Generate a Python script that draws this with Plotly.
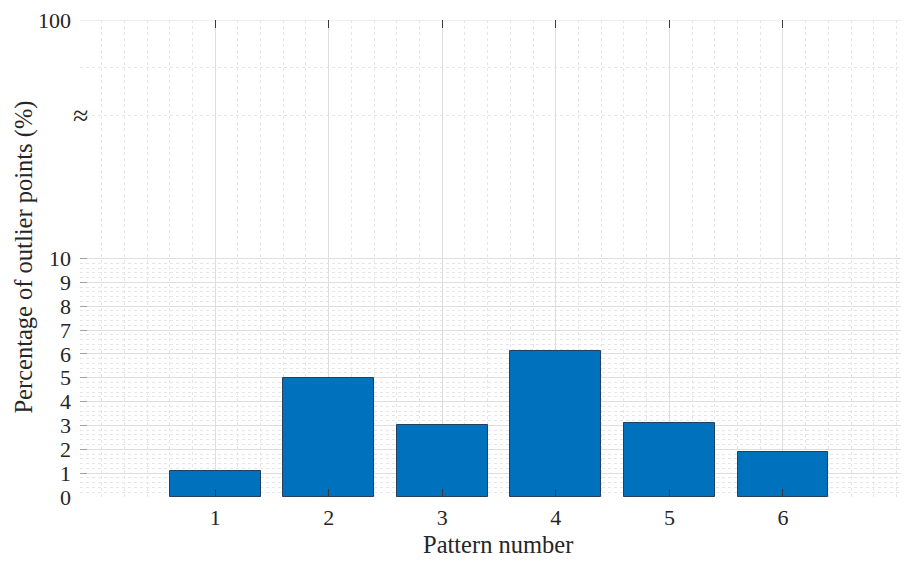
import plotly.graph_objects as go

# ---- data ----
patterns = [1, 2, 3, 4, 5, 6]
outlier_pct = [1.08, 5.0, 3.0, 6.12, 3.1, 1.9]

# broken y axis: 0..10 linear, then a break; display position 20 stands for 100
y_tick_vals = [0, 1, 2, 3, 4, 5, 6, 7, 8, 9, 10, 20]
y_tick_text = ["0", "1", "2", "3", "4", "5", "6", "7", "8", "9", "10", "100"]
top_pos = 20
break_pos = 16
break_label = "≈"
y_minor_vals = [round(0.2 * i, 1) for i in range(1, 50) if i % 5 != 0] + [16, 18]

x_title = "Pattern number"
y_title = "Percentage of outlier points (%)"

FONT = "Liberation Serif"
TXT = "#262626"
GRID = "#dedede"
MINOR = "#e6e6e6"

# page body has an 8px margin; plot area should sit at x=80..909, y=17..497
PW, PH = 829, 480

fig = go.Figure()
fig.add_trace(go.Bar(
    x=patterns, y=outlier_pct, width=0.8,
    marker=dict(color="#0072BD", line=dict(color="#23415e", width=1)),
))

fig.update_layout(
    width=901, height=554,
    margin=dict(l=72, r=0, t=9, b=65, pad=0),
    paper_bgcolor="white", plot_bgcolor="white",
    showlegend=False,
    font=dict(family=FONT, size=22, color=TXT),
    bargap=0,
)

fig.update_xaxes(
    range=[-0.19, 7.11],
    tickmode="array", tickvals=patterns, ticktext=[str(p) for p in patterns],
    ticks="inside", ticklen=8, tickwidth=1, tickcolor="#3a3a3a",
    mirror="ticks", showline=False, zeroline=False,
    showgrid=True, gridcolor=GRID, gridwidth=1,
    minor=dict(dtick=0.2, tick0=0, showgrid=True, gridcolor=MINOR,
               griddash="dot", gridwidth=1, ticklen=0),
    tickfont=dict(family=FONT, size=22, color=TXT),
    ticklabelstandoff=5,
    ticklabeloverflow="allow",
)

fig.update_yaxes(
    range=[0, 20],
    tickmode="array", tickvals=y_tick_vals, ticktext=y_tick_text,
    ticks="inside", ticklen=7, tickwidth=1, tickcolor="#a0a0a0",
    showline=False, zeroline=False,
    showgrid=True, gridcolor=GRID, gridwidth=1,
    minor=dict(tickmode="array", tickvals=y_minor_vals, showgrid=True,
               gridcolor=MINOR, griddash="dot", gridwidth=1, ticklen=0),
    tickfont=dict(family=FONT, size=22, color=TXT),
    ticklabelstandoff=8,
    ticklabeloverflow="allow",
)

# top gridline at the "100" position (plotly skips grid at the range edge)
fig.add_shape(type="line", xref="paper", x0=0, x1=1, yref="y",
              y0=top_pos, y1=top_pos, line=dict(color=GRID, width=1),
              layer="below")

fig.add_annotation(
    x=0, xref="paper", y=break_pos, yref="y", text=break_label,
    showarrow=False, xanchor="center", yanchor="middle",
    font=dict(family=FONT, size=28, color=TXT),
)
fig.add_annotation(
    x=(498 - 80) / PW, xref="paper", y=-(545 - 497) / PH, yref="paper",
    text=x_title, showarrow=False, xanchor="center", yanchor="middle",
    font=dict(family=FONT, size=24.5, color=TXT),
)
fig.add_annotation(
    x=-(80 - 24) / PW, xref="paper", y=(497 - 256) / PH, yref="paper",
    text=y_title, showarrow=False, textangle=-90,
    xanchor="center", yanchor="middle",
    font=dict(family=FONT, size=24.5, color=TXT),
)

fig.write_html("out.html")
